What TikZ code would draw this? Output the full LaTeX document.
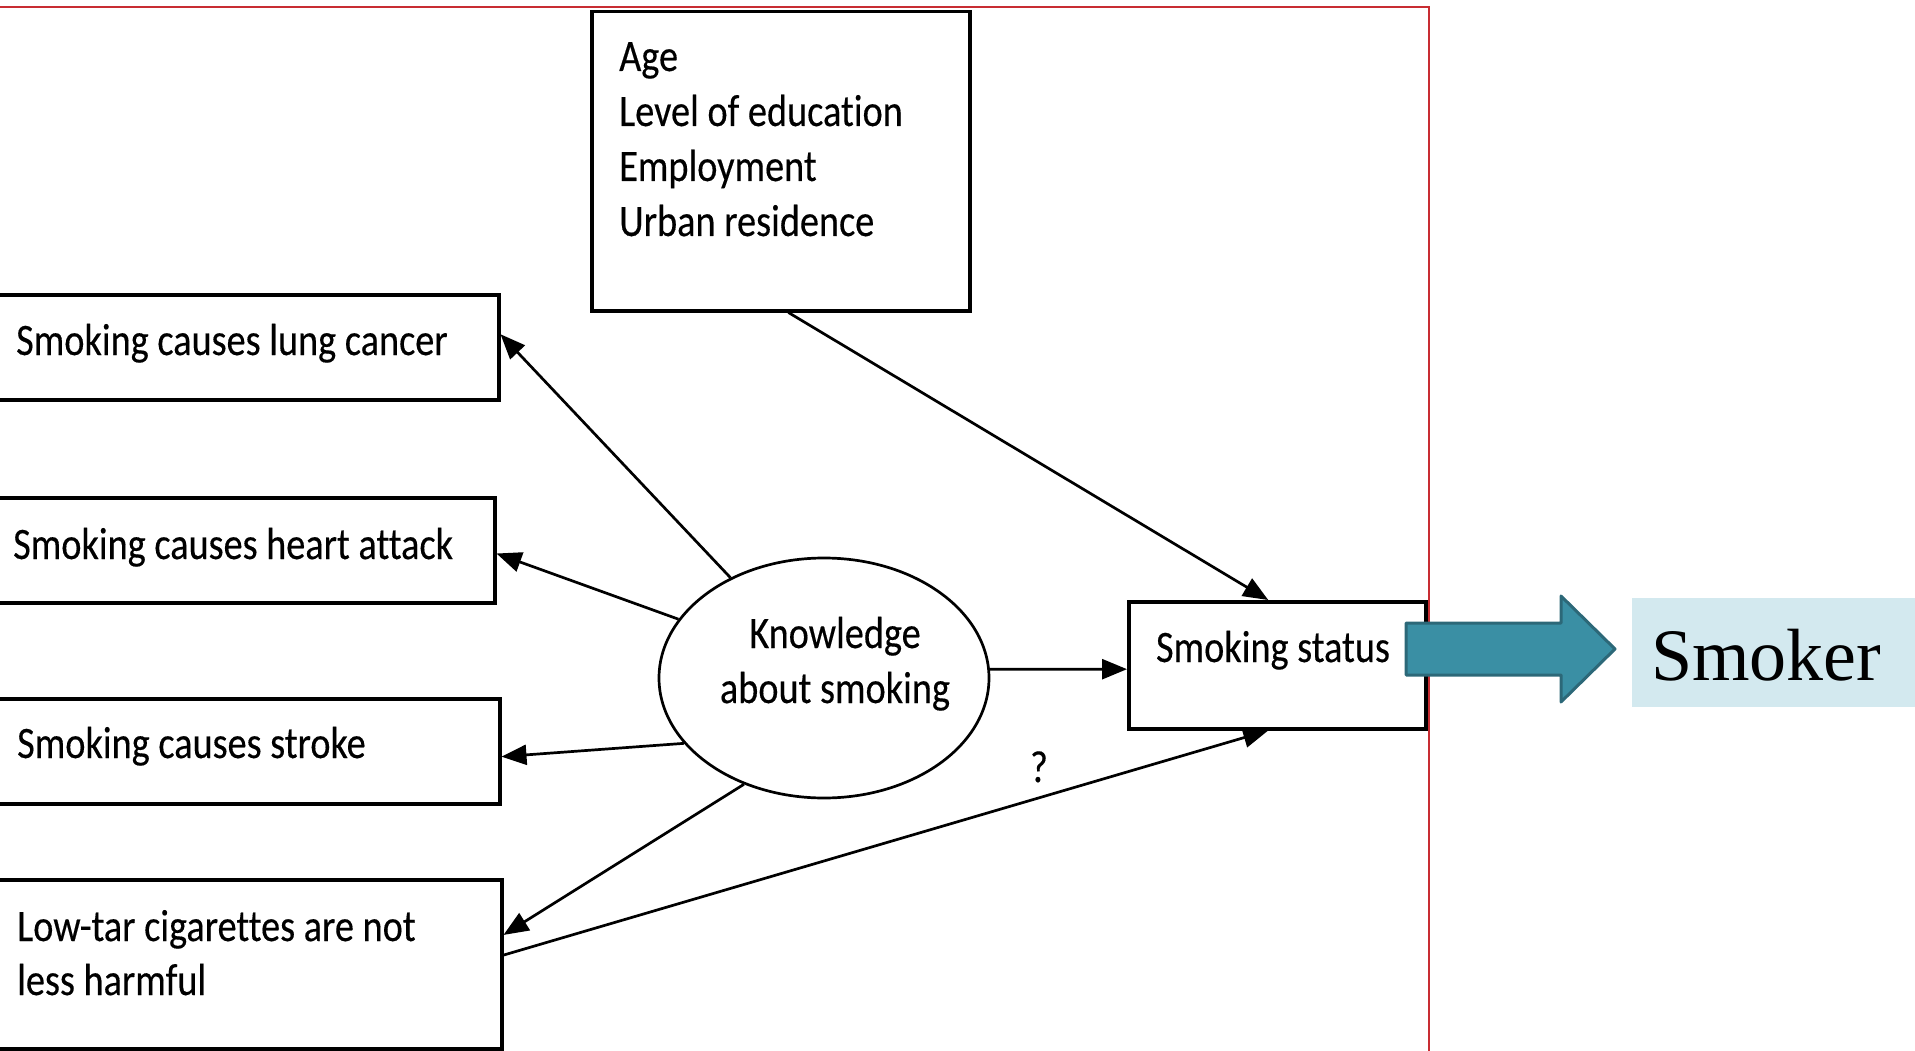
\documentclass[tikz,border=0pt]{standalone}
\usepackage{fontspec}
\setmainfont{Carlito}[FakeStretch=0.85,FakeBold=0.3,Ligatures=CommonOff]
\newfontfamily\serifface{Liberation Serif}
\usetikzlibrary{shapes.geometric,arrows.meta,calc}
\definecolor{framered}{RGB}{200,45,50}
\definecolor{tealfill}{RGB}{58,143,164}
\definecolor{tealedge}{RGB}{44,104,120}
\definecolor{smokerfill}{RGB}{211,233,239}
\begin{document}
\begin{tikzpicture}[x=1pt,y=-1pt,
  box/.style={draw,line width=3.5pt,rectangle,inner sep=0pt,anchor=north west},
  lbl/.style={anchor=base west,inner sep=0pt,font=\fontsize{45}{55}\selectfont},
  clbl/.style={anchor=base,inner sep=0pt,font=\fontsize{45}{55}\selectfont},
  link/.style={line width=2.7pt,-{Triangle[length=25pt,width=20pt]}}]
\useasboundingbox (0,0) rectangle (1915,1051);
\clip (0,0) rectangle (1915,1051);

% outer frame
\draw[framered,line width=2pt] (-5,7) rectangle (1429,1060);

% covariates box
\node[box,minimum width=378pt,minimum height=299pt] (agebox) at (590,10) {};
\node[lbl] (age1) at (619,71) {Age};
\node[lbl] (age2) at (619,126) {Level of education};
\node[lbl] (age3) at (619,181) {Employment};
\node[lbl] (age4) at (619,236) {Urban residence};

% knowledge items
\node[box,minimum width=507pt,minimum height=105pt] (lung) at (-10,293) {};
\node[lbl] (lungtxt) at (16,355) {Smoking causes lung cancer};
\node[box,minimum width=503pt,minimum height=105pt] (heart) at (-10,496) {};
\node[lbl] (hearttxt) at (13,559) {Smoking causes heart attack};
\node[box,minimum width=508pt,minimum height=105pt] (stroke) at (-10,697) {};
\node[lbl] (stroketxt) at (17,758) {Smoking causes stroke};
\node[box,minimum width=510pt,minimum height=169pt] (lowtar) at (-10,878) {};
\node[lbl] (lowtar1) at (17,941) {Low-tar cigarettes are not};
\node[lbl] (lowtar2) at (17,995) {less harmful};

% central construct
\node[draw,ellipse,line width=2.7pt,minimum width=330pt,minimum height=240pt,inner sep=0pt] (know) at (824,678) {};
\node[clbl] (know1) at (835,648) {Knowledge};
\node[clbl] (know2) at (835,703) {about smoking};

% outcome
\node[box,minimum width=297pt,minimum height=127pt] (status) at (1127,600) {};
\node[clbl] (statustxt) at (1273,662) {Smoking status};

% paths
\draw[link] (know.133.8) -- ($(lung.north east)!0.38!(lung.south east)$);
\draw[link] (know.158.3) -- ($(heart.north east)!0.53!(heart.south east)$);
\draw[link] (know.205.2) -- ($(stroke.north east)!0.55!(stroke.south east)$);
\draw[link] (know.233.6) -- ($(lowtar.north east)!0.33!(lowtar.south east)$);
\draw[link] (know.3.8) -- ($(status.north west)!0.53!(status.south west)$);
\draw[link] ($(agebox.south west)!0.52!(agebox.south east)$) -- ($(status.north west)!0.47!(status.north east)$);
\draw[link] ($(lowtar.north east)!0.447!(lowtar.south east)$) -- ($(status.south west)!0.47!(status.south east)$);
\node[clbl] (qmark) at (1039,782) {?};

% result
\node[fill=smokerfill,anchor=north west,minimum width=300pt,minimum height=109pt,inner sep=0pt] (smokerbox) at (1632,598) {};
\node[anchor=base west,inner sep=0pt,font=\serifface\fontsize{74}{80}\selectfont] (smoker) at (1651,680) {Smoker};

% block arrow
\filldraw[fill=tealfill,draw=tealedge,line width=3pt,line join=round]
  (1406,623) -- (1561,623) -- (1561,596) -- (1615,649) -- (1561,702) -- (1561,675) -- (1406,675) -- cycle;
\end{tikzpicture}
\end{document}
